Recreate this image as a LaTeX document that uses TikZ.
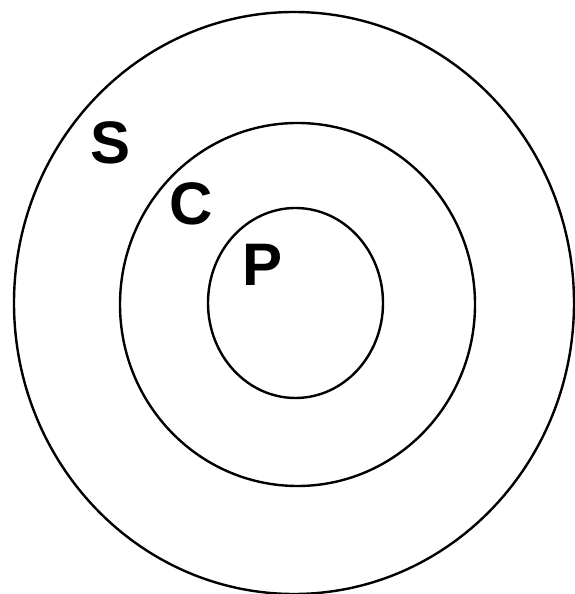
\documentclass[tikz,border=0pt]{standalone}
\usepackage{fontspec}
\setmainfont{Liberation Sans}
\usepackage{tikz}

\begin{document}
\begin{tikzpicture}[x=1pt,y=1pt,
  ring/.style={draw=black,line width=2.4pt},
  lettera/.style={inner sep=0pt,font=\fontsize{60}{60}\selectfont\bfseries}]
\useasboundingbox (0,0) rectangle (575,594);
\draw[ring] (294,291) ellipse [x radius=280,y radius=291];
\draw[ring] (297.5,289.5) ellipse [x radius=177.5,y radius=181.5];
\draw[ring] (295.5,291) ellipse [x radius=87.5,y radius=95];
\node[lettera] (S) at (111,451) {S};
\node[lettera] (C) at (191,390) {C};
\node[lettera] (P) at (263,329) {P};
\end{tikzpicture}
\end{document}
